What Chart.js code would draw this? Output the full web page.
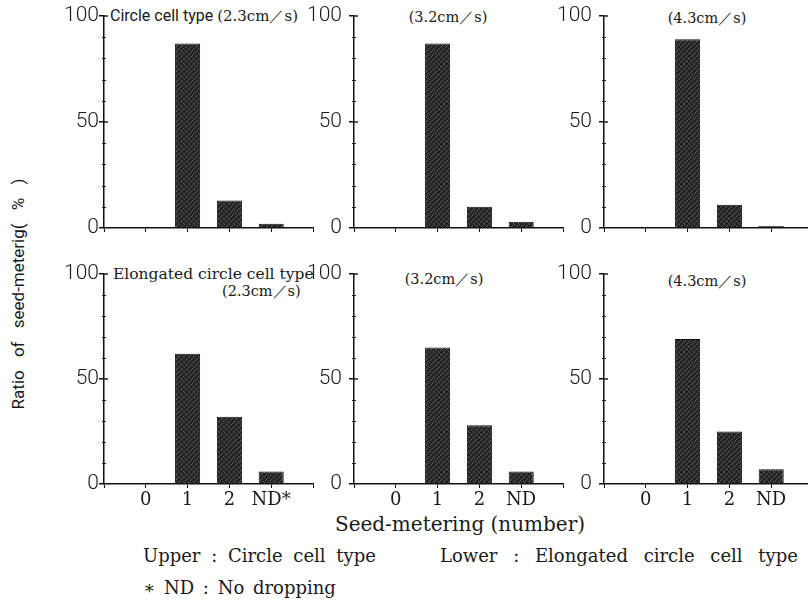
<!DOCTYPE html>
<html>
<head>
<meta charset="utf-8">
<script src="https://cdn.jsdelivr.net/npm/chart.js@4/dist/chart.umd.min.js"></script>
<style>
  html, body { margin: 0; padding: 0; background: #fff; overflow: hidden; }
  #wrap { position: relative; width: 808px; height: 601px; overflow: hidden; }
  canvas { position: absolute; }
  .t { position: absolute; white-space: nowrap; color: #1a1a1a; line-height: 1; }
  .serif { font-family: "DejaVu Serif", "Liberation Serif", serif; }
  .sans { font-family: Roboto, "Liberation Sans", sans-serif; }
  .c { transform: translate(-50%, -50%); }
  .l { transform: translateY(-50%); }
</style>
</head>
<body>
<div id="wrap">
  <div class="t sans l" style="left:110px;top:16px;font-size:16px;">Circle cell type <span class="serif" style="font-size:15px;">(2.3cm／s)</span></div>
  <div class="t serif c" style="left:448px;top:17px;font-size:14.5px;">(3.2cm／s)</div>
  <div class="t serif c" style="left:707px;top:18px;font-size:14.5px;">(4.3cm／s)</div>
  <div class="t serif l" style="left:113px;top:275px;font-size:15.5px;">Elongated circle cell type</div>
  <div class="t serif l" style="left:222px;top:291px;font-size:14.5px;">(2.3cm／s)</div>
  <div class="t serif c" style="left:444px;top:279px;font-size:14.5px;">(3.2cm／s)</div>
  <div class="t serif c" style="left:707px;top:281px;font-size:14.5px;">(4.3cm／s)</div>

  <div class="t sans" style="left:18px;top:294px;font-size:17px;word-spacing:9px;transform:translate(-50%,-50%) rotate(-90deg);">Ratio of seed-meterig( % )</div>

  <div class="t serif c" style="left:460px;top:524px;font-size:20px;">Seed-metering (number)</div>
  <div class="t serif l" style="left:143px;top:556px;font-size:18px;word-spacing:5px;">Upper : Circle cell type</div>
  <div class="t serif l" style="left:440px;top:556px;font-size:18px;word-spacing:10px;">Lower : Elongated circle cell type</div>
  <div class="t serif l" style="left:143px;top:588px;font-size:18px;word-spacing:3px;">∗ ND : No dropping</div>
</div>
<script>
// seed-metering ratio (%) for 0, 1, 2 seeds and no dropping
const upperLabels = ['', '', '', ''];
const lowerLabels1 = ['0', '1', '2', 'ND*'];
const lowerLabels2 = ['0', '1', '2', 'ND'];

const upper23 = [0, 87, 13, 2];
const upper32 = [0, 87, 10, 3];
const upper43 = [0, 89, 11, 1];
const lower23 = [0, 62, 32, 6];
const lower32 = [0, 65, 28, 6];
const lower43 = [0, 69, 25, 7];

const yTicks = [0, 50, 100];

// panel placement: axis x, 100-line y, 0-line y
const colX = [104, 354, 604];
const rowTop = [16, 274];
const rowBottom = [228, 484];
const plotW = 209;
const tickPad = [0, 7, 7];

// stippled dark fill like the printed bars
function stipple() {
  const c = document.createElement('canvas');
  c.width = 5; c.height = 5;
  const g = c.getContext('2d');
  g.fillStyle = '#232323';
  g.fillRect(0, 0, 5, 5);
  g.fillStyle = '#5c5c5c';
  [[0, 0], [3, 1], [1, 3], [4, 4], [2, 2]].forEach(p => g.fillRect(p[0], p[1], 1, 1));
  return g.createPattern(c, 'repeat');
}

const axisMarks = {
  id: 'axisMarks',
  afterDraw(chart) {
    const ctx = chart.ctx;
    const y = chart.scales.y;
    const x0 = chart.chartArea.left;
    ctx.save();
    ctx.strokeStyle = '#222';
    ctx.lineWidth = 1;
    for (let v = 10; v < 100; v += 10) {
      if (v === 50) continue;
      const py = Math.round(y.getPixelForValue(v)) + 0.5;
      ctx.beginPath();
      ctx.moveTo(x0 - 2, py);
      ctx.lineTo(x0 + 2, py);
      ctx.stroke();
    }
    ctx.lineWidth = 1.5;
    [50, 100].forEach(v => {
      const py = y.getPixelForValue(v);
      ctx.beginPath();
      ctx.moveTo(x0, py);
      ctx.lineTo(x0 + 4, py);
      ctx.stroke();
    });
    ctx.restore();
  }
};

function panel(values, labels, col, row) {
  const bottomSpace = row === 1 ? 26 : 10;
  const topSpace = 12;
  const h = topSpace + (rowBottom[row] - rowTop[row]) + bottomSpace;
  const w = 60 + plotW + 8;
  const cv = document.createElement('canvas');
  cv.width = w; cv.height = h;
  cv.style.left = (colX[col] - 60) + 'px';
  cv.style.top = (rowTop[row] - topSpace) + 'px';
  cv.style.width = w + 'px';
  cv.style.height = h + 'px';
  document.getElementById('wrap').appendChild(cv);

  new Chart(cv.getContext('2d'), {
    type: 'bar',
    data: {
      datasets: [{
        data: values.map((v, i) => ({ x: i, y: v })),
        backgroundColor: stipple(),
        borderColor: '#111',
        borderWidth: 1,
        borderSkipped: 'start',
        categoryPercentage: 0.6,
        barPercentage: 1
      }]
    },
    options: {
      responsive: false,
      animation: false,
      devicePixelRatio: 1,
      layout: { padding: { top: topSpace, right: 8, left: 0, bottom: 0 } },
      plugins: { legend: { display: false }, tooltip: { enabled: false } },
      scales: {
        x: {
          type: 'linear',
          min: -1,
          max: 4,
          offset: false,
          afterFit: s => { s.height = bottomSpace; s.paddingLeft = 0; s.paddingRight = 0; },
          border: { color: '#111', width: 1.5 },
          grid: { offset: false, drawOnChartArea: false, tickLength: 4, color: '#111' },
          ticks: {
            stepSize: 1,
            autoSkip: false,
            maxRotation: 0,
            padding: 2,
            color: '#1a1a1a',
            font: { family: '"DejaVu Serif", serif', size: 18 },
            callback: v => labels[v] !== undefined ? labels[v] : ''
          }
        },
        y: {
          min: 0,
          max: 100,
          afterFit: s => { s.width = 60; s.paddingTop = 0; s.paddingBottom = 0; },
          border: { color: '#111', width: 1.5 },
          grid: { drawOnChartArea: false, tickLength: 5, color: '#111', lineWidth: 1.5 },
          afterBuildTicks: s => { s.ticks = yTicks.map(v => ({ value: v })); },
          ticks: {
            padding: tickPad[col],
            color: '#1a1a1a',
            font: { family: 'Roboto, "Liberation Sans", sans-serif', size: 21, weight: 300 }
          }
        }
      }
    },
    plugins: [axisMarks]
  });
}

panel(upper23, upperLabels, 0, 0);
panel(upper32, upperLabels, 1, 0);
panel(upper43, upperLabels, 2, 0);
panel(lower23, lowerLabels1, 0, 1);
panel(lower32, lowerLabels2, 1, 1);
panel(lower43, lowerLabels2, 2, 1);
</script>
</body>
</html>
